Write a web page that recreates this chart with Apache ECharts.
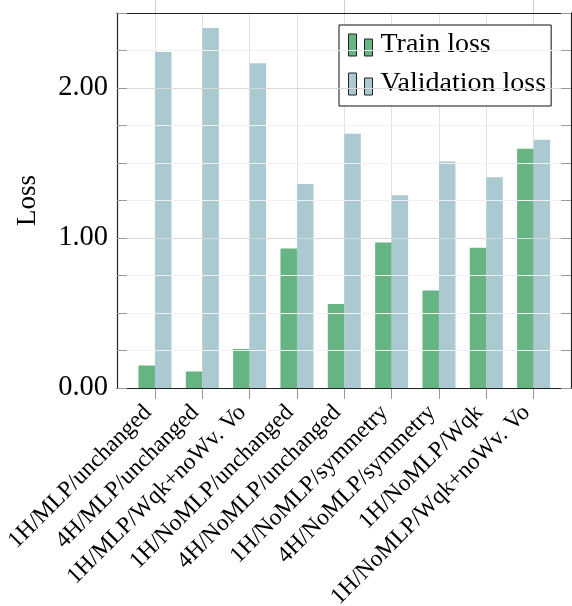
<!DOCTYPE html>
<html>
<head>
<meta charset="utf-8">
<style>
  html, body { margin: 0; padding: 0; background: #fff; }
  #chart { width: 572px; height: 606px; }
</style>
<script src="https://cdn.jsdelivr.net/npm/echarts@6/dist/echarts.min.js"></script>
</head>
<body>
<div id="chart"></div>
<script>
// 类别 / categories
var categories = [
  '1H/MLP/unchanged',
  '4H/MLP/unchanged',
  '1H/MLP/Wqk+noWv. Vo',
  '1H/NoMLP/unchanged',
  '4H/NoMLP/unchanged',
  '1H/NoMLP/symmetry',
  '4H/NoMLP/symmetry',
  '1H/NoMLP/Wqk',
  '1H/NoMLP/Wqk+noWv. Vo'
];
var trainLoss = [0.15, 0.11, 0.26, 0.93, 0.56, 0.97, 0.65, 0.935, 1.595];
var validLoss = [2.24, 2.40, 2.165, 1.36, 1.695, 1.285, 1.51, 1.405, 1.655];
var yTicks = [0, 1, 2];

var serif = '"Liberation Serif", "DejaVu Serif", serif';
var myChart = echarts.init(document.getElementById('chart'));

// legend icon: two small bars like pgfplots ybar legend
var legendIcon = 'path://M0,0H8V22H0Z M16,5H24V22H16Z';

var option = {
  backgroundColor: '#fff',
  animation: false,
  legend: {
    orient: 'vertical',
    left: 339,
    top: 25,
    padding: [6, 5, 8, 9],
    itemGap: 11,
    itemWidth: 24,
    itemHeight: 22,
    backgroundColor: '#fff',
    borderColor: '#111',
    borderWidth: 1,
    borderRadius: 0,
    icon: legendIcon,
    itemStyle: { borderColor: '#222', borderWidth: 1 },
    textStyle: { fontFamily: serif, fontSize: 28, color: '#000', lineHeight: 27, padding: [0, 0, 0, 3] },
    data: ['Train loss', 'Validation loss']
  },
  grid: [
    { left: 117, top: 13, width: 454, height: 375, outerBoundsMode: 'none', containLabel: false },   // box + y axis
    { left: 131.3, top: 13, width: 426, height: 375, outerBoundsMode: 'none', containLabel: false }  // bars
  ],
  xAxis: [
    {
      gridIndex: 0, type: 'value', min: 0, max: 1, position: 'bottom', z: 5,
      axisLine: { show: true, onZero: false, lineStyle: { color: '#222', width: 1.2 } },
      axisTick: { show: false }, axisLabel: { show: false }, splitLine: { show: false }
    },
    {
      gridIndex: 0, type: 'value', min: 0, max: 1, position: 'top', z: 5,
      axisLine: { show: true, onZero: false, lineStyle: { color: '#222', width: 1.2 } },
      axisTick: { show: false }, axisLabel: { show: false }, splitLine: { show: false }
    },
    {
      gridIndex: 1, type: 'category', data: categories, position: 'bottom',
      axisLine: { show: false, onZero: false },
      axisTick: { show: true, alignWithLabel: true, inside: false, length: 11, lineStyle: { color: '#999' } },
      axisLabel: {
        interval: 0, rotate: 45, margin: 14, padding: [0, 10, 0, 0],
        fontFamily: serif, fontSize: 23.5, color: '#000'
      },
      splitLine: { show: true, alignWithLabel: true, lineStyle: { color: '#e2e2e2' } }
    },
    {
      gridIndex: 1, type: 'category', data: categories, position: 'top',
      axisLine: { show: false, onZero: false },
      axisTick: { show: true, alignWithLabel: true, inside: false, length: 13, lineStyle: { color: '#cfcfcf' } },
      axisLabel: { show: false },
      splitLine: { show: false }
    }
  ],
  yAxis: [
    {
      gridIndex: 0, type: 'value', min: 0, max: 2.5, interval: 0.25, position: 'left', z: 5,
      name: 'Loss', nameLocation: 'middle', nameGap: 76, nameRotate: 90,
      nameTextStyle: { fontFamily: serif, fontSize: 27, color: '#000' },
      axisLine: { show: true, onZero: false, lineStyle: { color: '#222', width: 1.2 } },
      axisTick: { show: true, inside: true, length: 10, lineStyle: { color: '#999' } },
      axisLabel: {
        margin: 9, fontFamily: serif, fontSize: 28.5, color: '#000',
        formatter: function (v) {
          for (var i = 0; i < yTicks.length; i++) {
            if (Math.abs(v - yTicks[i]) < 1e-6) return yTicks[i].toFixed(2);
          }
          return '';
        }
      },
      splitLine: { show: true, lineStyle: { color: ['#d9d9d9', '#f1f1f1', '#f1f1f1', '#f1f1f1'] } }
    },
    {
      gridIndex: 0, type: 'value', min: 0, max: 2.5, interval: 0.25, position: 'right', z: 5,
      axisLine: { show: true, onZero: false, lineStyle: { color: '#222', width: 1.2 } },
      axisTick: { show: true, inside: true, length: 10, lineStyle: { color: '#999' } },
      axisLabel: { show: false },
      splitLine: { show: false }
    },
    {
      gridIndex: 1, type: 'value', min: 0, max: 2.5, show: false
    }
  ],
  series: [
    {
      name: 'Train loss', type: 'bar', xAxisIndex: 2, yAxisIndex: 2,
      data: trainLoss, barWidth: 16.5, barGap: '0%',
      itemStyle: { color: '#66b482' }
    },
    {
      name: 'Validation loss', type: 'bar', xAxisIndex: 2, yAxisIndex: 2,
      data: validLoss, barWidth: 16.5, barGap: '0%',
      itemStyle: { color: '#abc9d0' }
    }
  ]
};

myChart.setOption(option);
window.addEventListener('resize', function () {
  myChart.resize();
});
</script>
</body>
</html>
